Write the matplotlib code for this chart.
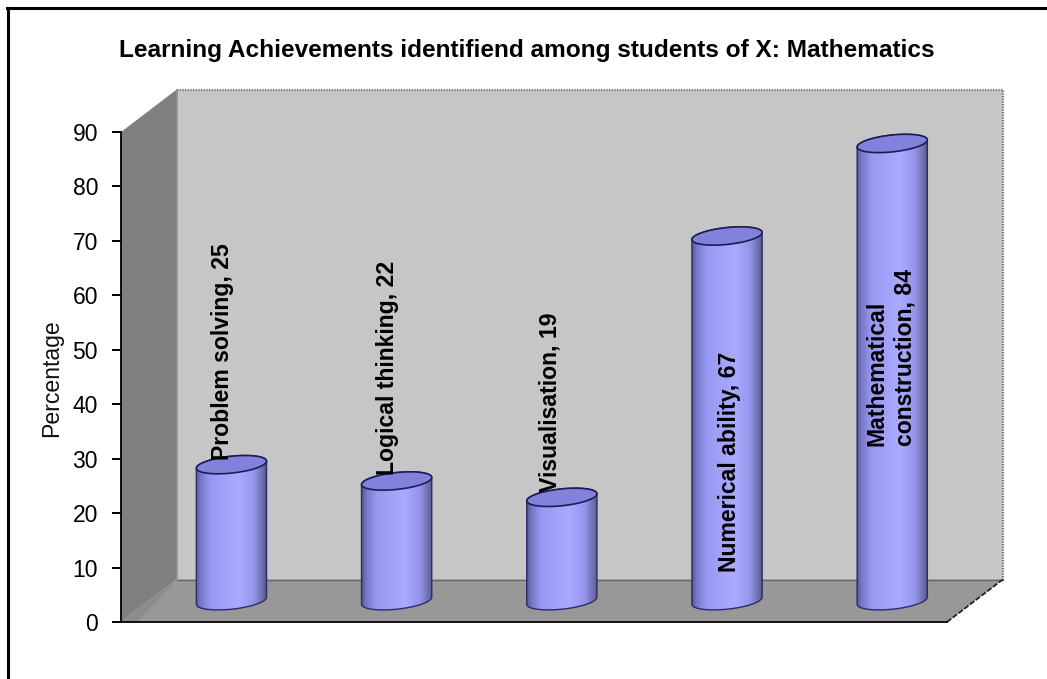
import numpy as np
import matplotlib
matplotlib.use("Agg")
import matplotlib.pyplot as plt
from matplotlib.colors import LinearSegmentedColormap
from matplotlib.patches import Polygon
from matplotlib.transforms import ScaledTranslation

categories = ["Problem solving", "Logical thinking", "Visualisation",
              "Numerical ability", "Mathematical\nconstruction"]
values = [25, 22, 19, 67, 84]
y_ticks = [0, 10, 20, 30, 40, 50, 60, 70, 80, 90]
title = "Learning Achievements identifiend among students of X: Mathematics"
y_label = "Percentage"

plt.rcParams['font.family'] = ['Liberation Sans', 'DejaVu Sans']

W, H = 1047, 679
fig = plt.figure(figsize=(W / 100, H / 100), dpi=100)
ax = fig.add_axes([121 / W, (H - 622) / H, 826 / W, 490 / H])
ax.set_xlim(0, 5)
ax.set_ylim(0, 90)

# 3D box depth, in data units
dx = 0.337
dy = 7.8

# walls
ax.add_patch(Polygon([(0, 0), (dx, dy), (dx, 90 + dy), (0, 90)], fc="#808080", ec="none", clip_on=False, zorder=1))
ax.add_patch(Polygon([(dx, dy), (5 + dx, dy), (5 + dx, 90 + dy), (dx, 90 + dy)], fc="#c6c6c6", ec="none", clip_on=False, zorder=1))
ax.add_patch(Polygon([(0, 0), (dx, dy), (5 + dx, dy), (5, 0)], fc="#989898", ec="none", clip_on=False, zorder=2))
ax.add_patch(Polygon([(0, 0), (dx, dy), (0.1, 0)], fc="#8c8c8c", ec="none", clip_on=False, zorder=2))
ax.plot([dx, 5 + dx], [dy, dy], color="#666666", lw=1.0, clip_on=False, zorder=3)
ax.plot([dx, dx], [dy, 90 + dy], color="#8c8c8c", lw=1.2, clip_on=False, zorder=3)
ax.plot([dx, 5 + dx, 5 + dx], [90 + dy, 90 + dy, dy], color="#777777", lw=1.6, ls=(0, (0.6, 0.6)), clip_on=False, zorder=3)
ax.plot([5, 5 + dx], [0, dy], color="#222222", lw=1.3, ls=(0, (3, 1)), clip_on=False, zorder=3)

# cylinders
cmap = LinearSegmentedColormap.from_list("cyl", [(0, "#5a5a90"), (0.06, "#7676c4"), (0.2, "#9898f2"),
                                                 (0.6, "#aaaaff"), (0.82, "#9494ea"), (0.95, "#6a6aa6"), (1, "#50507a")])
half_w = 0.2125
half_h = 1.55
shear = 0.65
t = np.linspace(0, 2 * np.pi, 121)
base = dy / 2
for i, v in enumerate(values):
    cx = i + 0.5 + dx / 2
    top = base + v
    ex = cx + half_w * np.cos(t)
    ey = half_h * np.sin(t) + shear * np.cos(t)
    lower = t[60:]
    upper = t[:61]
    bx = cx + half_w * np.cos(lower)
    by = base + half_h * np.sin(lower) + shear * np.cos(lower)
    ux = cx + half_w * np.cos(upper)
    uy = top + half_h * np.sin(upper) + shear * np.cos(upper)
    body = Polygon(np.column_stack([np.r_[bx, ux], np.r_[by, uy]]), fc="none", ec="#2c2c6a", lw=1.0, clip_on=False, zorder=5)
    ax.add_patch(body)
    im = ax.imshow(np.linspace(0, 1, 256)[None, :], cmap=cmap, aspect="auto", zorder=4,
                   extent=[cx - half_w, cx + half_w, base - 3, top + 3])
    im.set_clip_path(body)
    ax.add_patch(Polygon(np.column_stack([ex, top + ey]), fc="#8282dc", ec="#1c1c58", lw=1.2, clip_on=False, zorder=6))
ax.set_xlim(0, 5)
ax.set_ylim(0, 90)

# data labels: offset from bar centre in px, bottom of text in data units
label_dx = [-9, -9, -12, 2, -1]
label_y = [29.8, 27, 23.9, 9.2, 32.3]
for i, (c, v) in enumerate(zip(categories, values)):
    cx = i + 0.5 + dx / 2
    tr = ax.transData + ScaledTranslation(label_dx[i] / 100, 0, fig.dpi_scale_trans)
    ax.text(cx, label_y[i], f"{c}, {v}", transform=tr, rotation=90, ha="center", va="bottom",
            multialignment="left", fontsize=16.6, fontweight="bold", color="black",
            linespacing=1.25, zorder=8, clip_on=False)

ax.set_yticks(y_ticks)
ax.set_xticks([])
ax.tick_params(axis="y", length=6.5, width=1.4, labelsize=16.5, pad=10, color="black")
for s in ["top", "right"]:
    ax.spines[s].set_visible(False)
ax.spines["left"].set_linewidth(1.3)
ax.spines["bottom"].set_linewidth(1.3)
ax.spines["left"].set_zorder(7)
ax.spines["bottom"].set_zorder(7)
ax.patch.set_visible(False)

fig.text(52 / W, 1 - 378 / H, y_label, rotation=90, ha="center", va="center", fontsize=16.6, color="#111111")
fig.text(527 / W, 1 - 51 / H, title, ha="center", va="center", fontsize=17.6, fontweight="bold")

# outer frame: only top and left are inside the picture
fig.add_artist(plt.Line2D([8 / W, 8 / W], [0, 1 - 8 / H], color="black", lw=2.2, transform=fig.transFigure))
fig.add_artist(plt.Line2D([7 / W, 1], [1 - 8 / H, 1 - 8 / H], color="black", lw=2.2, transform=fig.transFigure))

fig.savefig("out.png", dpi=100)
